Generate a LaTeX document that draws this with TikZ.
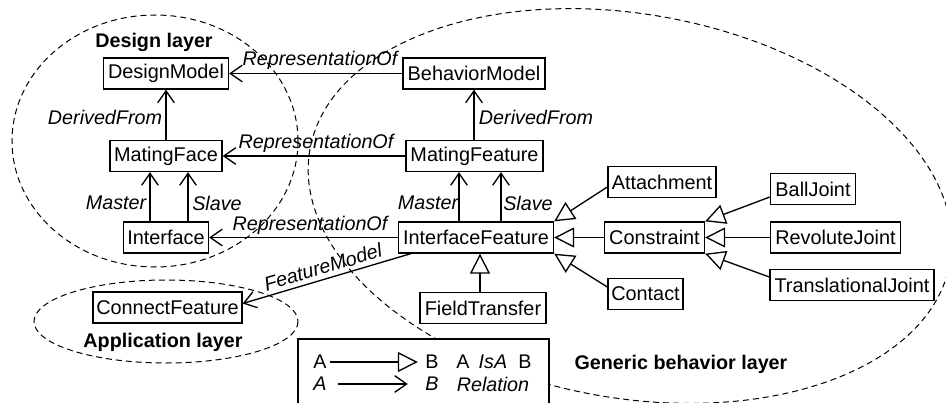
\documentclass[tikz,border=0pt]{standalone}
\usepackage{fontspec}
\setmainfont{Liberation Sans}
\usetikzlibrary{arrows.meta,calc}
\begin{document}
\begin{tikzpicture}[x=0.75pt,y=-0.75pt,
  cls/.style={draw, line width=1pt, inner xsep=2pt, inner ysep=0pt, minimum height=31*0.75pt, font=\fontsize{14.9}{17}\selectfont},
  bw/.style={minimum width=#1*0.75pt},
  lbl/.style={font=\fontsize{14.8}{17}\selectfont\itshape, inner sep=0pt},
  txt/.style={font=\fontsize{14.8}{17}\selectfont, inner sep=0pt},
  layer/.style={font=\fontsize{14.8}{17}\selectfont\bfseries, inner sep=0pt},
  rel/.style={line width=1pt, -{Straight Barb[length=9pt,width=12.5pt,line width=1pt]}},
  isa/.style={line width=1pt, -{Triangle[open,fill=white,length=15pt,width=15pt,line width=1pt]}},
  region/.style={line width=0.75pt, dash pattern=on 4.5pt off 3pt}
]
\useasboundingbox (0,0) rectangle (946,403);
\begin{scope}
\clip (0,0) rectangle (946,403);
% layer regions
\draw[region] (155,141) ellipse [x radius=143, y radius=126];
\draw[region] (166,321.5) ellipse [x radius=132, y radius=41.5];
\draw[region, rotate around={-10:(630,206)}] (630,206) ellipse [x radius=325, y radius=192];
% legend box
\draw[line width=1pt, fill=white] (298,339) rectangle (549,410);
\end{scope}

% classes
\node[cls,bw=125] (dm) at (166,73.5) {DesignModel};
\node[cls,bw=142] (bm) at (474,73.5) {BehaviorModel};
\node[cls,bw=112] (mfa) at (166,156) {MatingFace};
\node[cls,bw=137] (mfe) at (474.5,156) {MatingFeature};
\node[cls,bw=85] (iface) at (166,237.5) {Interface};
\node[cls,bw=155] (ifeat) at (476,237.5) {InterfaceFeature};
\node[cls,bw=149] (cf) at (167.5,307.5) {ConnectFeature};
\node[cls,bw=126] (ft) at (483,308) {FieldTransfer};
\node[cls,bw=108] (att) at (662,182) {Attachment};
\node[cls,bw=100] (con) at (654.5,237.5) {Constraint};
\node[cls,bw=75] (cnt) at (645.5,294) {Contact};
\node[cls,bw=85] (bj) at (813,189) {BallJoint};
\node[cls,bw=130] (rj) at (835.5,237.5) {RevoluteJoint};
\node[cls,bw=164] (tj) at (852,285) {TranslationalJoint};

% layer names
\node[layer] (ldes) at (154,42) {Design layer};
\node[layer] (lapp) at (163,342) {Application layer};
\node[layer] (lgen) at (681,364) {Generic behavior layer};

% relations
\draw[rel] (bm) -- (dm);
\node[lbl] (rep1) at (320,60) {RepresentationOf};
\draw[rel] (mfe) -- (mfa);
\node[lbl] (rep2) at (316,143) {RepresentationOf};
\draw[rel] (ifeat) -- (iface);
\node[lbl] (rep3) at (310,225) {RepresentationOf};
\draw[rel] ($(ifeat.south west)+(13,0)$) -- ($(cf.east)+(0,-4)$);
\node[lbl, rotate=16.5] (fm) at (323,267) {FeatureModel};

\draw[rel] (mfa) -- (dm);
\node[lbl] (der1) at (105,117) {DerivedFrom};
\draw[rel] (mfe.north -| bm.south) -- (bm.south);
\node[lbl] (der2) at (536,117) {DerivedFrom};

\draw[rel] ($(iface.north)+(-16,0)$) -- ($(mfa.south)+(-16,0)$);
\draw[rel] ($(iface.north)+(22,0)$) -- ($(mfa.south)+(22,0)$);
\node[lbl] (mas1) at (116,203) {Master};
\node[lbl] (sla1) at (217,203) {Slave};

\draw[rel] ($(ifeat.north)+(-17,0)$) -- ($(mfe.south)+(-15.5,0)$);
\draw[rel] ($(ifeat.north)+(25,0)$) -- ($(mfe.south)+(26.5,0)$);
\node[lbl] (mas2) at (428,203) {Master};
\node[lbl] (sla2) at (528,203) {Slave};

% generalisations
\draw[isa] ($(att.west)+(0,5)$) -- (ifeat.north east);
\draw[isa] (con) -- (ifeat);
\draw[isa] ($(cnt.west)+(0,-7)$) -- (ifeat.south east);
\draw[isa] ($(ft.north)+(-3,0)$) -- ($(ifeat.south)+(4,0)$);
\draw[isa] ($(bj.west)+(0,8)$) -- (con.north east);
\draw[isa] (rj) -- (con);
\draw[isa] ($(tj.west)+(0,-8)$) -- (con.south east);

% legend
\node[txt] (la1) at (320,362) {A};
\node[txt] (lb1) at (432,362) {B};
\draw[isa, shorten <=2.5pt, shorten >=5.5pt] (la1.east) -- (lb1.west);
\node[txt] (la3) at (463,362) {A};
\node[lbl] (lisa) at (493,362) {IsA};
\node[txt] (lb3) at (525,362) {B};
\node[lbl] (la2) at (320,384) {A};
\node[lbl] (lb2) at (432,384) {B};
\draw[rel, shorten <=8.5pt, shorten >=13pt] (la2.east) -- (lb2.west);
\node[lbl] (lrel) at (493,384) {Relation};
\end{tikzpicture}
\end{document}
